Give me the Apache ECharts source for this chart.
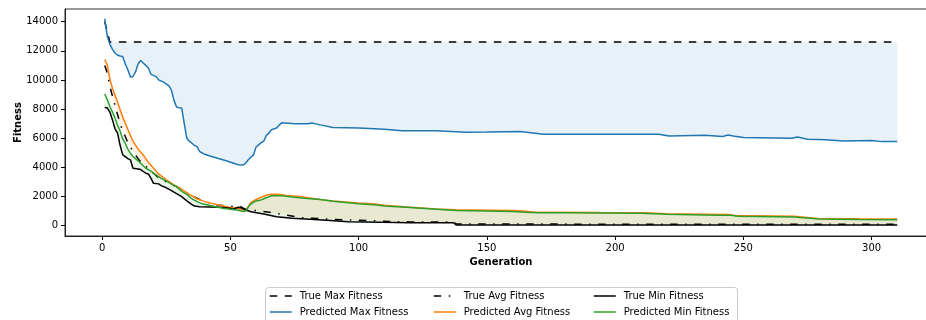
<!DOCTYPE html>
<html>
<head>
<meta charset="utf-8">
<script src="https://cdn.jsdelivr.net/npm/echarts@6/dist/echarts.min.js"></script>
<style>html,body{margin:0;padding:0;background:#fff}#c{width:926px;height:320px}</style>
</head>
<body>
<div id="c"></div>
<script>
const generationTicks = [0, 50, 100, 150, 200, 250, 300];
const fitnessTicks = [0, 2000, 4000, 6000, 8000, 10000, 12000, 14000];

const trueMax = [[1,14000],[2,13300],[3,12600],[310,12600]];
const predMax = [[1,14190],[2,12990],[3,12450],[4,12100],[5,11850],[6,11700],[7,11650],[8,11620],[9,11100],[10,10700],[11,10200],[12,10240],[13,10550],[14,11100],[15,11340],[16,11160],[17,11000],[18,10820],[19,10400],[20,10300],[21,10250],[22,10010],[24,9850],[26,9600],[27,9300],[28,8600],[29,8140],[30,8100],[31,8070],[32,7000],[33,6000],[34,5800],[35,5660],[36,5500],[37,5430],[38,5090],[40,4900],[42,4780],[45,4630],[48,4480],[51,4300],[53,4180],[55,4170],[56,4300],[57,4520],[58,4700],[59,4860],[60,5400],[61,5550],[62,5700],[63,5800],[64,6200],[65,6350],[66,6580],[68,6700],[69,6900],[70,7060],[75,7000],[80,7000],[82,7040],[85,6920],[90,6740],[100,6700],[110,6620],[117,6510],[130,6510],[142,6420],[150,6430],[163,6460],[172,6280],[217,6280],[221,6160],[235,6210],[242,6120],[244,6230],[246,6160],[250,6050],[269,6000],[271,6090],[275,5940],[282,5890],[289,5820],[300,5840],[304,5770],[310,5770]];

const trueAvg = [[1,11000],[2,10470],[3,9550],[4,8900],[5,8250],[6,7610],[7,7000],[8,6500],[9,6120],[10,5700],[12,5100],[14,4600],[16,4200],[18,3950],[20,3600],[22,3300],[25,3000],[29,2680],[32,2350],[35,2050],[37,1880],[40,1650],[44,1450],[48,1350],[52,1310],[54,1300],[55,1200],[57,1050],[61,1030],[65,920],[70,780],[78,550],[87,460],[95,390],[103,360],[112,290],[120,260],[137,250],[138,120],[150,110],[310,95]];
const predAvg = [[1,11400],[2,11040],[3,10050],[4,9440],[5,8950],[6,8450],[7,7950],[8,7450],[9,7040],[10,6600],[12,5800],[14,5250],[16,4850],[18,4350],[20,3950],[22,3550],[25,3150],[28,2800],[31,2500],[34,2150],[37,1850],[40,1650],[43,1520],[46,1400],[50,1250],[53,1180],[55,1100],[56,1060],[57,1300],[58,1600],[60,1800],[62,1950],[64,2100],[66,2150],[68,2150],[70,2120],[72,2080],[77,2000],[81,1900],[85,1800],[90,1700],[100,1560],[107,1480],[110,1400],[119,1280],[130,1150],[138,1090],[160,1040],[163,1030],[168,940],[180,930],[194,900],[212,880],[220,820],[244,760],[247,700],[270,640],[272,620],[279,500],[295,470],[310,460]];

const trueMin = [[1,8110],[2,8080],[3,7800],[4,7260],[5,6650],[6,6350],[7,5500],[8,4860],[9,4740],[10,4600],[11,4520],[12,3940],[14,3890],[15,3850],[17,3600],[18,3550],[19,3260],[20,2910],[22,2870],[23,2750],[25,2600],[27,2400],[29,2200],[31,1990],[33,1700],[35,1450],[36,1350],[38,1300],[42,1280],[46,1260],[50,1200],[51,1130],[53,1260],[54,1250],[56,1080],[58,960],[63,800],[68,620],[74,510],[81,440],[89,350],[96,275],[109,230],[120,206],[137,200],[138,50],[310,40]];
const predMin = [[1,9050],[2,8640],[3,8180],[4,7800],[5,7400],[6,6900],[7,6500],[8,5950],[9,5660],[10,5250],[11,4980],[12,4750],[13,4600],[15,4290],[17,3940],[19,3750],[21,3480],[23,3250],[25,3070],[27,2850],[29,2680],[31,2350],[33,2150],[35,1850],[37,1650],[39,1500],[43,1350],[47,1200],[50,1130],[53,1060],[55,980],[56,1010],[57,1300],[58,1490],[60,1700],[62,1770],[63,1850],[65,1990],[66,2050],[70,2050],[75,1950],[80,1860],[85,1800],[90,1680],[100,1500],[107,1420],[110,1350],[120,1250],[138,1040],[160,980],[165,920],[170,880],[180,880],[210,850],[218,800],[220,780],[240,720],[245,720],[248,650],[270,590],[272,560],[280,460],[295,420],[310,410]];

const FONT = 'DejaVu Sans';

function fillBetween(a, b, color) {
  return {
    type: 'custom',
    z: 1,
    silent: true,
    clip: true,
    data: [[0, 0]],
    renderItem: function (params, api) {
      const pts = a.map(p => api.coord(p)).concat(b.slice().reverse().map(p => api.coord(p)));
      return { type: 'polygon', shape: { points: pts }, style: { fill: color, stroke: null } };
    }
  };
}

function line(name, data, color, type) {
  return {
    name: name, type: 'line', data: data, z: 3,
    symbol: 'none', showSymbol: false, smooth: false,
    lineStyle: { color: color, width: 1.5, type: type || 'solid', cap: 'butt' },
    itemStyle: { color: color },
    emphasis: { disabled: true }
  };
}

const legendCommon = {
  orient: 'vertical', top: 290, padding: 0, itemWidth: 22, itemHeight: 12, itemGap: 4,
  selectedMode: false,
  itemStyle: { opacity: 0 },
  lineStyle: { width: 1.5 },
  textStyle: { fontFamily: FONT, fontSize: 10, color: '#000', lineHeight: 12, padding: [0, 0, 0, 3] }
};

const tickFmt = v => String(v);

const chart = echarts.init(document.getElementById('c'), null, { renderer: 'canvas' });
chart.setOption({
  animation: false,
  backgroundColor: '#fff',
  grid: { left: 65, top: 9, width: 872, height: 227, containLabel: false, outerBoundsMode: 'none', show: true, borderColor: '#000', borderWidth: 0.8, backgroundColor: 'transparent' },
  xAxis: {
    type: 'value', min: -14.5, max: 325.5,
    name: 'Generation', nameLocation: 'middle', nameGap: 21, nameMoveOverlap: false,
    nameTextStyle: { fontFamily: FONT, fontSize: 10, fontWeight: 'bold', color: '#000' },
    axisLine: { show: true, onZero: false, lineStyle: { color: '#000', width: 0.8 } },
    axisTick: { show: true, length: 4, inside: false, lineStyle: { color: '#000', width: 1 }, customValues: generationTicks },
    axisLabel: { margin: 7, fontFamily: FONT, fontSize: 10, color: '#000', customValues: generationTicks, formatter: tickFmt },
    splitLine: { show: false }
  },
  yAxis: {
    type: 'value', min: -708, max: 14873,
    name: 'Fitness', nameLocation: 'middle', nameGap: 42, nameRotate: 90, nameMoveOverlap: false,
    nameTextStyle: { fontFamily: FONT, fontSize: 10, fontWeight: 'bold', color: '#000' },
    axisLine: { show: true, onZero: false, lineStyle: { color: '#000', width: 0.8 } },
    axisTick: { show: true, length: 4, inside: false, lineStyle: { color: '#000', width: 1 }, customValues: fitnessTicks },
    axisLabel: { margin: 7, fontFamily: FONT, fontSize: 10, color: '#000', customValues: fitnessTicks, formatter: tickFmt },
    splitLine: { show: false }
  },
  legend: [
    Object.assign({ left: 269, data: ['True Max Fitness', 'Predicted Max Fitness'] }, legendCommon),
    Object.assign({ left: 433, data: ['True Avg Fitness', 'Predicted Avg Fitness'] }, legendCommon),
    Object.assign({ left: 593, data: ['True Min Fitness', 'Predicted Min Fitness'] }, legendCommon)
  ],
  graphic: [{
    type: 'rect', z: -1, silent: true,
    shape: { x: 265.5, y: 287.5, width: 472, height: 40, r: 3 },
    style: { fill: 'rgba(255,255,255,0.8)', stroke: '#cccccc', lineWidth: 1 }
  }],
  series: [
    fillBetween(predMax, trueMax, 'rgba(31,119,180,0.1)'),
    fillBetween(predAvg, trueAvg, 'rgba(255,127,14,0.1)'),
    fillBetween(predMin, trueMin, 'rgba(44,160,44,0.1)'),
    line('True Max Fitness', trueMax, '#000000', [7.5, 7.5]),
    line('Predicted Max Fitness', predMax, '#1f77b4'),
    line('True Avg Fitness', trueAvg, '#000000', [7.5, 7.5, 1.5, 7.5]),
    line('Predicted Avg Fitness', predAvg, '#ff7f0e'),
    line('True Min Fitness', trueMin, '#000000'),
    line('Predicted Min Fitness', predMin, '#2ca02c')
  ]
});
</script>
</body>
</html>
